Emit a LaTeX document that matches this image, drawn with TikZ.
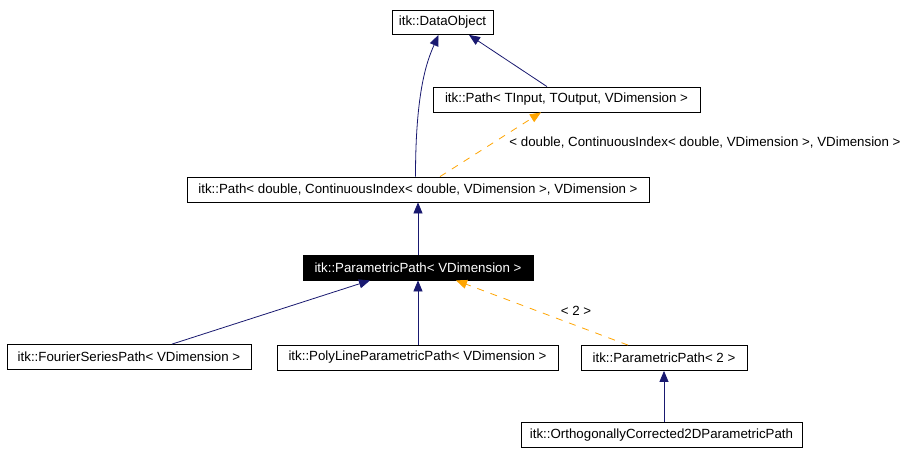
\documentclass[tikz,border=0pt]{standalone}
\usepackage{fontspec}
\setmainfont{Liberation Sans}
\usetikzlibrary{arrows.meta}
\definecolor{edgeblue}{HTML}{191970}
\definecolor{edgeorange}{HTML}{FFA500}
\begin{document}
\begin{tikzpicture}[x=1pt,y=-1pt,
  font=\fontsize{13.3}{16}\selectfont,
  cls/.style={draw=black,line width=0.8pt,fill=white,inner sep=0pt,minimum height=25pt,anchor=center},
  curcls/.style={cls,fill=black,text=white},
  inh/.style={draw=edgeblue,line width=0.8pt,-{Triangle[length=11pt,width=9pt]}},
  tmpl/.style={draw=edgeorange,line width=0.8pt,dash pattern=on 7pt off 7pt,-{Triangle[length=11pt,width=9pt]}},
  lbl/.style={inner sep=0pt,anchor=center}]
\useasboundingbox[fill=white] (0,0) rectangle (903,455);

\node[cls,minimum width=101pt,minimum height=24pt] (DO) at (442.5,22.5) {itk::DataObject};
\node[cls,minimum width=267pt] (PT) at (566.5,99.5) {itk::Path< TInput, TOutput, VDimension >};
\node[cls,minimum width=462pt] (PD) at (418,189.5) {itk::Path< double, ContinuousIndex< double, VDimension >, VDimension >};
\node[curcls,minimum width=230pt] (PP) at (418,267.5) {itk::ParametricPath< VDimension >};
\node[cls,minimum width=244pt] (FS) at (129,357) {itk::FourierSeriesPath< VDimension >};
\node[cls,minimum width=281pt] (PL) at (417.5,357.5) {itk::PolyLineParametricPath< VDimension >};
\node[cls,minimum width=166pt] (P2) at (664,358) {itk::ParametricPath< 2 >};
\node[cls,minimum width=281pt] (OC) at (661.5,435) {itk::OrthogonallyCorrected2DParametricPath};

\node[lbl] (L1) at (705,143) {< double, ContinuousIndex< double, VDimension >, VDimension >};
\node[lbl] (L2) at (576,311) {< 2 >};

\draw[inh] ([xshift=-2.5pt]PD.north) .. controls +(0,-87) and +(-11,25) .. ([xshift=-4pt]DO.south);
\draw[inh] ([xshift=-19.5pt]PT.north) -- ([xshift=26.5pt]DO.south);
\draw[tmpl] ([xshift=22pt]PD.north) -- ([xshift=-25.5pt]PT.south);
\draw[inh] (PP.north) -- (PD.south);
\draw[inh] ([xshift=43pt]FS.north) -- ([xshift=-48pt]PP.south);
\draw[inh] (PL.north -| PP.south) -- (PP.south);
\draw[tmpl] ([xshift=-36pt]P2.north) -- ([xshift=38pt]PP.south);
\draw[inh] (OC.north -| P2.south) -- (P2.south);
\end{tikzpicture}
\end{document}
